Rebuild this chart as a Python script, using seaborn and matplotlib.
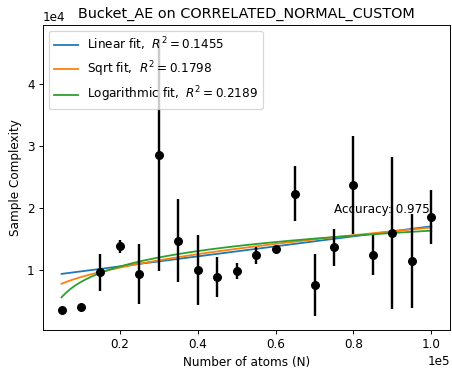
import numpy as np
import pandas as pd
import matplotlib
matplotlib.use("Agg")
import matplotlib.pyplot as plt
import seaborn as sns

# Data
atoms = [5000, 10000, 15000, 20000, 25000, 30000, 35000, 40000, 45000, 50000,
         55000, 60000, 65000, 70000, 75000, 80000, 85000, 90000, 95000, 100000]
complexity = [3440, 3870, 9600, 13760, 9300, 28550, 14700, 9900, 8760, 9800,
              12300, 13300, 22300, 7470, 13600, 23700, 12360, 15900, 11340, 18550]
errors = [0, 0, 3000, 1100, 4900, 18800, 6700, 5700, 3200, 1300,
          1400, 300, 4400, 5000, 3000, 7900, 3200, 12300, 7600, 4400]

# Fit coefficients (a, b)
linear_coef = [8895.0, 0.0811]      # a + b*x
sqrt_coef = [5079.0, 37.07]         # a + b*sqrt(x)
log_coef = [-25205.0, 3605.0]       # a + b*ln(x)
r2_values = [0.1455, 0.1798, 0.2189]
fit_names = ["Linear fit", "Sqrt fit", "Logarithmic fit"]
accuracy_text = "Accuracy: 0.975"
title = "Bucket_AE on CORRELATED_NORMAL_CUSTOM"

DPI = 86
fig, ax = plt.subplots(figsize=(453 / DPI, 372 / DPI), dpi=DPI)
fig.subplots_adjust(left=0.095, right=0.993, top=0.933, bottom=0.113)

xs = np.linspace(min(atoms), max(atoms), 200)
fits = [
    linear_coef[0] + linear_coef[1] * xs,
    sqrt_coef[0] + sqrt_coef[1] * np.sqrt(xs),
    log_coef[0] + log_coef[1] * np.log(xs),
]
colors = ["#1f77b4", "#ff7f0e", "#2ca02c"]
for name, r2, ys, c in zip(fit_names, r2_values, fits, colors):
    sns.lineplot(x=xs, y=ys, ax=ax, color=c, linewidth=1.5,
                 label=f"{name},  $R^2 = {r2:.4f}$")

ax.errorbar(atoms, complexity, yerr=errors, fmt="o", color="black",
            markersize=6.5, elinewidth=2, capsize=0, zorder=3)

ax.text(75000, 19700, accuracy_text, fontsize=10, ha="left", va="center")

ax.ticklabel_format(style="sci", axis="both", scilimits=(0, 0))
ax.set_title(title, fontsize=12)
ax.set_xlabel("Number of atoms (N)")
ax.set_ylabel("Sample Complexity")
ax.legend(loc="upper left")

fig.savefig("out.png", dpi=DPI)
